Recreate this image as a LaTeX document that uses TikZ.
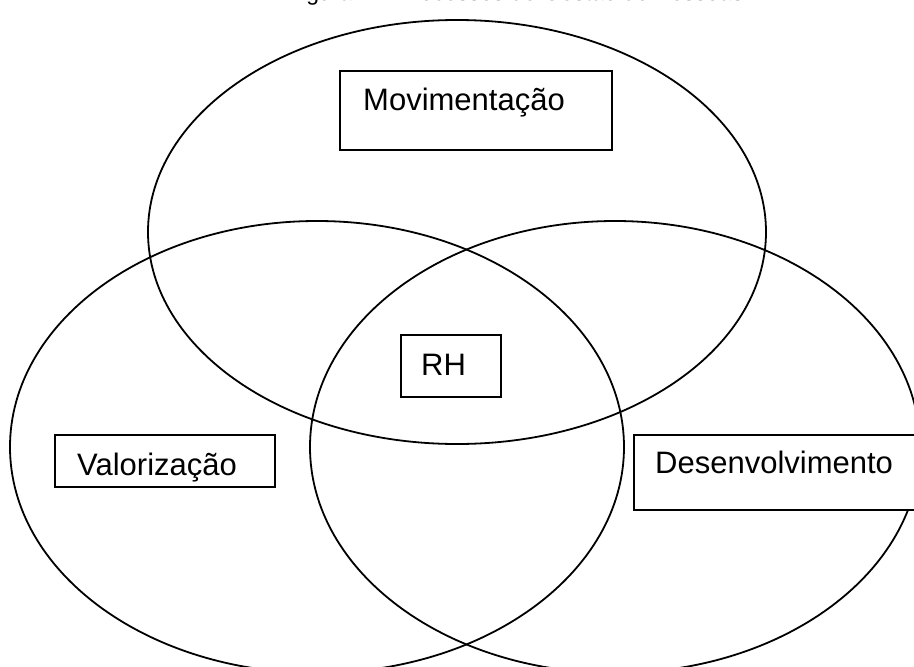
\documentclass[tikz,border=0pt]{standalone}
\usepackage{fontspec}
\setmainfont{Liberation Sans}
\begin{document}
\begin{tikzpicture}[x=1pt,y=-1pt,
  ring/.style={draw=black,line width=1.8pt},
  box/.style={draw=black,fill=white,line width=1.7pt,rectangle,inner sep=0pt},
  lbl/.style={font=\fontsize{31}{36}\selectfont,inner sep=0pt,anchor=base west},
  titletxt/.style={font=\fontsize{23}{27}\selectfont,inner sep=0pt,anchor=base west}]
\useasboundingbox (0,0) rectangle (914,667);
\clip (0,0) rectangle (914,667);
% caption (cropped at top, as in the reference)
\node[titletxt] (title) at (287,0.8) {Figura 1 -- Processos de Gestão de Pessoas};
% ellipses
\draw[ring] (457,232) ellipse [x radius=309pt, y radius=212pt];
\draw[ring] (317,447) ellipse [x radius=307pt, y radius=226pt];
\draw[ring] (615,447) ellipse [x radius=305pt, y radius=226pt];
% boxes
\node[box,minimum width=272pt,minimum height=79pt] (movbox) at (476,110.5) {};
\node[box,minimum width=100pt,minimum height=62pt] (rhbox) at (451,366) {};
\node[box,minimum width=220pt,minimum height=52pt] (valbox) at (165,461) {};
\node[box,minimum width=290pt,minimum height=75pt] (desbox) at (779,472.5) {};
% texts
\node[lbl] (movt) at (363,110) {Movimentação};
\node[lbl] (rht) at (421,375) {RH};
\node[lbl] (valt) at (77,475) {Valorização};
\node[lbl] (dest) at (655,473) {Desenvolvimento};
\end{tikzpicture}
\end{document}
